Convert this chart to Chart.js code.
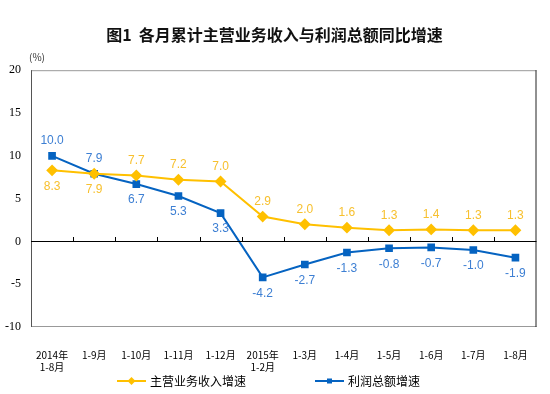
<!DOCTYPE html>
<html>
<head>
<meta charset="utf-8">
<script src="https://cdn.jsdelivr.net/npm/chart.js@4"></script>
<style>
  html, body { margin: 0; padding: 0; background: #fff; }
  #wrap { width: 550px; height: 394px; }
</style>
</head>
<body>
<div id="wrap"><canvas id="growthChart" width="550" height="394"></canvas></div>
<script>
// Categories (month ranges)
const months = [
    ['2014年', '1-8月'], '1-9月', '1-10月', '1-11月', '1-12月',
    ['2015年', '1-2月'], '1-3月', '1-4月', '1-5月', '1-6月', '1-7月', '1-8月'
];

// Series values (%)
const revenueGrowth = [8.3, 7.9, 7.7, 7.2, 7.0, 2.9, 2.0, 1.6, 1.3, 1.4, 1.3, 1.3];
const profitGrowth = [10.0, 7.9, 6.7, 5.3, 3.3, -4.2, -2.7, -1.3, -0.8, -0.7, -1.0, -1.9];

// Where each value label sits relative to its point
const revenueLabelSide = ['below', 'below', 'above', 'above', 'above', 'above', 'above', 'above', 'above', 'above', 'above', 'above'];
const profitLabelSide = ['above', 'above', 'below', 'below', 'below', 'below', 'below', 'below', 'below', 'below', 'below', 'below'];

const seriesNames = ['主营业务收入增速', '利润总额增速'];

const YELLOW = '#FFC000';
const BLUE = '#0563C1';
const YELLOW_LABEL = '#F7C02E';
const BLUE_LABEL = '#3D7FD3';
const CJK = '"Noto Sans CJK SC", "Noto Sans", sans-serif';

// Box around plot, zero line with small ticks, value labels, unit, legend
const decorPlugin = {
    id: 'decor',
    afterDatasetsDraw(chart) {
        const { ctx, chartArea: a, scales } = chart;
        const y0 = scales.y.getPixelForValue(0);
        ctx.save();

        // plot frame
        ctx.lineWidth = 1;
        ctx.strokeStyle = '#999';
        ctx.beginPath();
        ctx.moveTo(a.left, a.top + 0.5); ctx.lineTo(a.right, a.top + 0.5);
        ctx.moveTo(a.left, a.bottom - 0.5); ctx.lineTo(a.right, a.bottom - 0.5);
        ctx.stroke();
        ctx.strokeStyle = '#555';
        ctx.beginPath();
        ctx.moveTo(a.left + 0.5, a.top); ctx.lineTo(a.left + 0.5, a.bottom);
        ctx.stroke();
        ctx.strokeStyle = '#222';
        ctx.beginPath();
        ctx.moveTo(a.right - 0.5, a.top); ctx.lineTo(a.right - 0.5, a.bottom);
        ctx.stroke();

        // zero line and category ticks
        ctx.strokeStyle = '#000';
        ctx.beginPath();
        ctx.moveTo(a.left, Math.round(y0) + 0.5);
        ctx.lineTo(a.right, Math.round(y0) + 0.5);
        for (let i = 1; i < months.length; i++) {
            const x = Math.round((scales.x.getPixelForValue(i - 1) + scales.x.getPixelForValue(i)) / 2) + 0.5;
            ctx.moveTo(x, Math.round(y0));
            ctx.lineTo(x, Math.round(y0) - 4);
        }
        ctx.stroke();

        // value labels
        ctx.font = '12px "Liberation Sans", Arial, sans-serif';
        ctx.textAlign = 'center';
        ctx.textBaseline = 'middle';
        const sets = [
            { vals: revenueGrowth, side: revenueLabelSide, color: YELLOW_LABEL },
            { vals: profitGrowth, side: profitLabelSide, color: BLUE_LABEL }
        ];
        sets.forEach((s, di) => {
            const meta = chart.getDatasetMeta(di);
            ctx.fillStyle = s.color;
            meta.data.forEach((pt, i) => {
                const dy = s.side[i] === 'above' ? -15 : 16;
                ctx.fillText(s.vals[i].toFixed(1), pt.x, pt.y + dy);
            });
        });

        // unit
        ctx.fillStyle = '#333';
        ctx.font = '10px ' + CJK;
        ctx.textAlign = 'left';
        ctx.fillText('(%)', 29, 57);

        // legend
        const legendY = 381;
        const items = [
            { x: 117, color: YELLOW, style: 'diamond', text: seriesNames[0] },
            { x: 315, color: BLUE, style: 'square', text: seriesNames[1] }
        ];
        items.forEach(it => {
            ctx.strokeStyle = it.color;
            ctx.fillStyle = it.color;
            ctx.lineWidth = 2;
            ctx.beginPath();
            ctx.moveTo(it.x, legendY);
            ctx.lineTo(it.x + 29, legendY);
            ctx.stroke();
            const cx = it.x + 14.5;
            ctx.beginPath();
            if (it.style === 'diamond') {
                ctx.moveTo(cx, legendY - 4); ctx.lineTo(cx + 4, legendY);
                ctx.lineTo(cx, legendY + 4); ctx.lineTo(cx - 4, legendY);
                ctx.closePath();
                ctx.fill();
            } else {
                ctx.fillRect(cx - 2.5, legendY - 2.5, 5, 5);
            }
            ctx.fillStyle = '#000';
            ctx.font = '12px ' + CJK;
            ctx.fillText(it.text, it.x + 33, legendY);
        });

        ctx.restore();
    }
};

const ctx = document.getElementById('growthChart').getContext('2d');
new Chart(ctx, {
    type: 'line',
    data: {
        labels: months,
        datasets: [{
            label: seriesNames[0],
            data: revenueGrowth,
            borderColor: YELLOW,
            backgroundColor: YELLOW,
            borderWidth: 2,
            pointStyle: 'rectRot',
            pointRadius: 4.5,
            pointHoverRadius: 4.5,
            tension: 0
        }, {
            label: seriesNames[1],
            data: profitGrowth,
            borderColor: BLUE,
            backgroundColor: BLUE,
            borderWidth: 2,
            pointStyle: 'rect',
            pointRadius: 4,
            pointHoverRadius: 4,
            tension: 0
        }]
    },
    options: {
        responsive: false,
        animation: false,
        layout: { padding: { left: 0, right: 1, top: 0, bottom: 21 } },
        plugins: {
            legend: { display: false },
            tooltip: { enabled: false },
            title: {
                display: true,
                text: '图1  各月累计主营业务收入与利润总额同比增速',
                color: '#111',
                font: { family: CJK, size: 16, weight: 'bold' },
                padding: { top: 25, bottom: 26 }
            }
        },
        scales: {
            x: {
                offset: true,
                grid: { display: false, drawTicks: false },
                border: { display: false },
                ticks: {
                    color: '#000',
                    font: { family: CJK, size: 10 },
                    maxRotation: 0,
                    autoSkip: false,
                    padding: 22
                },
                afterFit(scale) { scale.height = 46; }
            },
            y: {
                min: -10,
                max: 20,
                ticks: {
                    stepSize: 5,
                    color: '#000',
                    font: { family: '"Liberation Serif", "Times New Roman", serif', size: 12 },
                    padding: 10
                },
                grid: { display: false, drawTicks: false },
                border: { display: false },
                afterFit(scale) { scale.width = 31; }
            }
        }
    },
    plugins: [decorPlugin]
});
</script>
</body>
</html>
